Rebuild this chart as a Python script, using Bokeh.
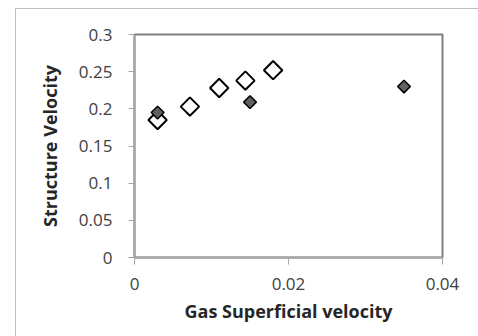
import numpy as np
from bokeh.plotting import figure
from bokeh.layouts import column
from bokeh.models import Range1d, FixedTicker
from bokeh.embed import file_html
from bokeh.resources import INLINE

# Series 1: open diamonds
open_x = [0.0030, 0.0072, 0.0110, 0.0144, 0.0180]
open_y = [0.185, 0.203, 0.228, 0.238, 0.252]
# Series 2: filled grey diamonds
fill_x = [0.0030, 0.0150, 0.0350]
fill_y = [0.195, 0.209, 0.230]

x_ticks = [0, 0.02, 0.04]
y_ticks = [0, 0.05, 0.1, 0.15, 0.2, 0.25, 0.3]
x_tick_labels = {0: "0", 0.02: "0.02", 0.04: "0.04"}
y_tick_labels = {0: "0", 0.05: "0.05", 0.1: "0.1", 0.15: "0.15", 0.2: "0.2", 0.25: "0.25", 0.3: "0.3"}

FONT = "Open Sans"

p = figure(width=462, height=327, output_backend="svg", toolbar_location=None,
           x_range=Range1d(0, 0.04), y_range=Range1d(0, 0.3),
           min_border_left=118, min_border_right=36, min_border_top=25, min_border_bottom=79)
p.outline_line_color = "#7f7f7f"
p.outline_line_width = 2
p.grid.visible = False
p.background_fill_color = "white"
p.border_fill_color = "white"

p.xaxis.ticker = FixedTicker(ticks=x_ticks)
p.yaxis.ticker = FixedTicker(ticks=y_ticks)
p.xaxis.major_label_overrides = x_tick_labels
p.yaxis.major_label_overrides = y_tick_labels
for ax in (p.xaxis, p.yaxis):
    ax.axis_line_color = "#a6a6a6"
    ax.axis_line_width = 2
    ax.major_tick_line_color = "#a6a6a6"
    ax.minor_tick_line_color = None
    ax.major_tick_in = 0
    ax.major_label_text_font = FONT
    ax.major_label_text_font_size = "17px"
    ax.major_label_text_color = "#404040"
    ax.axis_label_text_font = FONT
    ax.axis_label_text_font_size = "18px"
    ax.axis_label_text_font_style = "bold"
    ax.axis_label_text_color = "#262626"
p.xaxis.major_tick_out = 7
p.yaxis.major_tick_out = 6
p.xaxis.major_label_standoff = 13
p.yaxis.major_label_standoff = 16
p.xaxis.axis_label = "Gas Superficial velocity"
p.yaxis.axis_label = "Structure Velocity"
p.xaxis.axis_label_standoff = 6
p.yaxis.axis_label_standoff = 14

p.scatter(open_x, open_y, marker="square", angle=np.pi / 4, size=13,
          fill_color="white", line_color="black", line_width=2)
p.scatter(fill_x, fill_y, marker="square", angle=np.pi / 4, size=9,
          fill_color="#606060", line_color="black", line_width=1.5)

lay = column(p, margin=(8, 0, 0, 15),
             styles={"border-left": "1px solid #bfbfbf", "border-top": "1px solid #bfbfbf"})

open("out.html", "w").write(file_html(lay, INLINE))
